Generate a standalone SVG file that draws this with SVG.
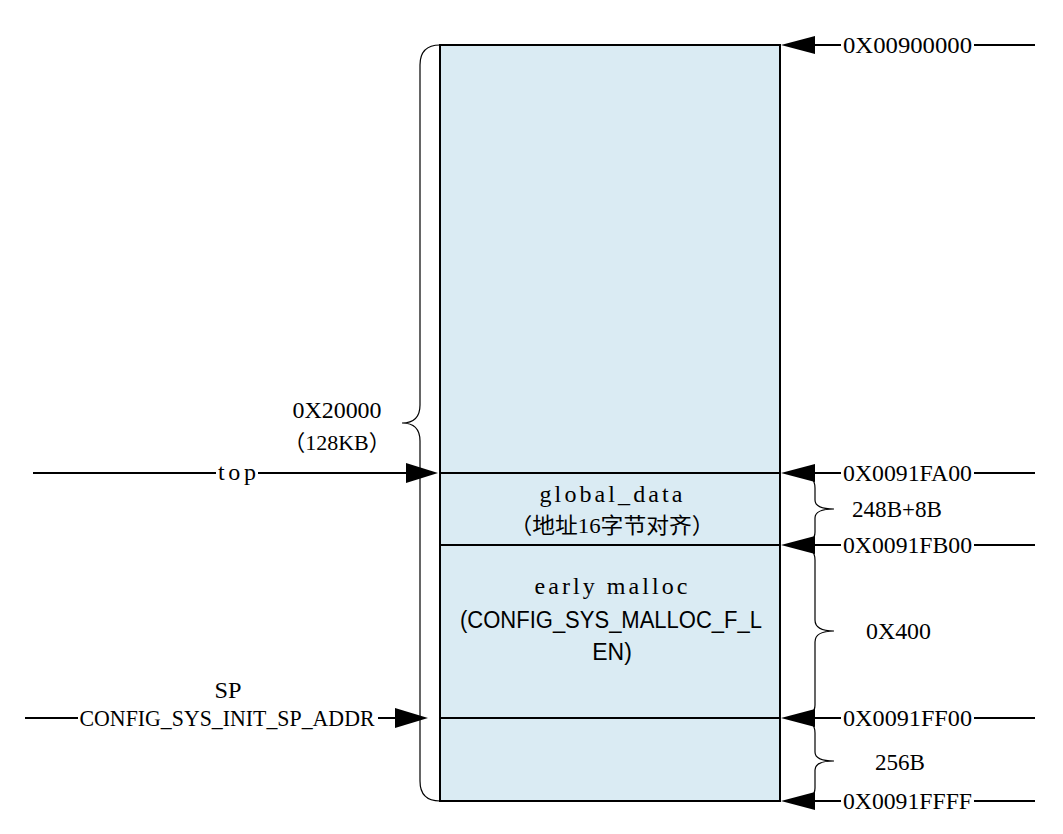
<svg xmlns="http://www.w3.org/2000/svg" width="1063" height="834" viewBox="0 0 1063 834">
<style>
.t{font-family:"Liberation Serif","Noto Sans CJK SC",serif;font-size:24px;fill:#000}
.c{font-family:"Liberation Serif","Noto Sans CJK SC",serif;font-size:22px;fill:#000}
.s{font-family:"Liberation Sans",Arial,sans-serif;font-size:23px;fill:#000}
.ln{stroke:#000;stroke-width:2;fill:none}
.br{stroke:#000;stroke-width:1.2;fill:none}
.bg{fill:#fff}
.ah{fill:#000}
</style>
<g id="memory">
<rect x="440" y="45" width="340" height="756" fill="#DAEBF3" stroke="#000" stroke-width="2"/>
<line class="ln" x1="440" y1="473" x2="780" y2="473"/>
<line class="ln" x1="440" y1="545" x2="780" y2="545"/>
<line class="ln" x1="440" y1="718" x2="780" y2="718"/>
</g>
<g id="global_data">
<text class="t" x="611" y="502" text-anchor="middle" textLength="143" lengthAdjust="spacing">global_data</text>
<text class="c" x="612" y="533" text-anchor="middle" textLength="205" lengthAdjust="spacingAndGlyphs">（地址16字节对齐）</text>
</g>
<g id="early_malloc">
<text class="t" x="611" y="594" text-anchor="middle" textLength="153" lengthAdjust="spacing">early malloc</text>
<text class="s" x="611" y="628" text-anchor="middle" textLength="302" lengthAdjust="spacingAndGlyphs">(CONFIG_SYS_MALLOC_F_L</text>
<text class="s" x="612" y="660" text-anchor="middle">EN)</text>
</g>
<g id="connectors">
<line class="ln" x1="815" y1="45" x2="1035" y2="45"/>
<line class="ln" x1="815" y1="473" x2="1035" y2="473"/>
<line class="ln" x1="815" y1="545" x2="1035" y2="545"/>
<line class="ln" x1="815" y1="718" x2="1035" y2="718"/>
<line class="ln" x1="815" y1="801" x2="1035" y2="801"/>
<polygon class="ah" points="781,45 815,36 815,54"/>
<polygon class="ah" points="781,473 815,464 815,482"/>
<polygon class="ah" points="781,545 815,536 815,554"/>
<polygon class="ah" points="781,718 815,709 815,727"/>
<polygon class="ah" points="781,801 815,792 815,810"/>
<line class="ln" x1="33" y1="473" x2="408" y2="473"/>
<polygon class="ah" points="438,473 406,463 406,483"/>
<line class="ln" x1="25" y1="718" x2="396" y2="718"/>
<polygon class="ah" points="428,718 395,708 395,728"/>
</g>
<g id="braces">
<path class="br" d="M440 45 Q420 45 420 65 L420 405 Q420 423 402 423 Q420 423 420 441 L420 781 Q420 801 440 801"/>
<path class="br" d="M800 473 Q815 475 815 488 L815 500 Q815 509 834 509 Q815 509 815 518 L815 532 Q815 543 800 545"/>
<path class="br" d="M800 545 Q815 547 815 560 L815 620 Q815 631 834 631 Q815 631 815 642 L815 705 Q815 716 800 718"/>
<path class="br" d="M800 718 Q815 720 815 733 L815 752 Q815 761 834 761 Q815 761 815 770 L815 788 Q815 799 800 801"/>
</g>
<g id="labels">
<rect class="bg" x="841" y="35" width="133" height="20"/>
<text class="t" x="843" y="53" textLength="129" lengthAdjust="spacingAndGlyphs">0X00900000</text>
<rect class="bg" x="841" y="463" width="133" height="20"/>
<text class="t" x="843" y="481" textLength="129" lengthAdjust="spacingAndGlyphs">0X0091FA00</text>
<rect class="bg" x="841" y="535" width="133" height="20"/>
<text class="t" x="843" y="553" textLength="129" lengthAdjust="spacingAndGlyphs">0X0091FB00</text>
<rect class="bg" x="841" y="708" width="133" height="20"/>
<text class="t" x="843" y="726" textLength="129" lengthAdjust="spacingAndGlyphs">0X0091FF00</text>
<rect class="bg" x="841" y="791" width="133" height="20"/>
<text class="t" x="843" y="809" textLength="129" lengthAdjust="spacingAndGlyphs">0X0091FFFF</text>
<text class="t" x="852" y="517" textLength="90" lengthAdjust="spacingAndGlyphs">248B+8B</text>
<text class="t" x="866" y="639" textLength="65" lengthAdjust="spacingAndGlyphs">0X400</text>
<text class="t" x="875" y="770" textLength="50" lengthAdjust="spacingAndGlyphs">256B</text>
<text class="t" x="337" y="418" text-anchor="middle" textLength="89" lengthAdjust="spacingAndGlyphs">0X20000</text>
<text class="c" x="337" y="450" text-anchor="middle">（128KB）</text>
<rect class="bg" x="216" y="463" width="42" height="20"/>
<text class="t" x="237" y="480" text-anchor="middle" textLength="38" lengthAdjust="spacing">top</text>
<text class="t" x="228" y="698" text-anchor="middle" textLength="27" lengthAdjust="spacingAndGlyphs">SP</text>
<rect class="bg" x="78" y="708" width="300" height="20"/>
<text class="t" x="227" y="726" text-anchor="middle" textLength="295" lengthAdjust="spacingAndGlyphs">CONFIG_SYS_INIT_SP_ADDR</text>
</g>
</svg>
